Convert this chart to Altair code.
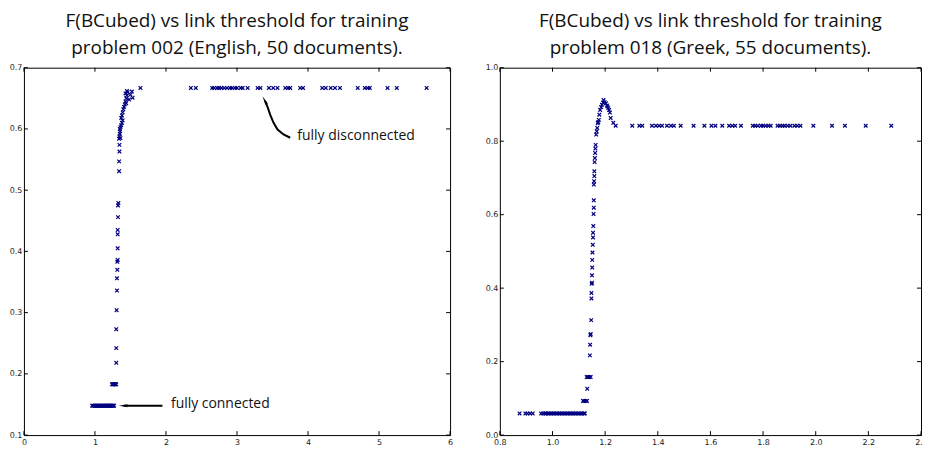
import altair as alt
import pandas as pd

# ---------------- data ----------------
# Left: training problem 002 (English)
en_x = [0.96, 0.975, 0.99, 1.0, 1.01, 1.02, 1.03, 1.045, 1.06, 1.07, 1.08, 1.09, 1.10, 1.115,
        1.13, 1.14, 1.15, 1.16, 1.17, 1.18, 1.19, 1.20, 1.21, 1.22, 1.23, 1.24, 1.25, 1.26, 1.27,
        1.24, 1.25, 1.26, 1.27, 1.28, 1.29, 1.30,
        1.30, 1.30, 1.30, 1.305, 1.31, 1.31, 1.315, 1.315, 1.32, 1.32, 1.32, 1.32, 1.325, 1.325,
        1.33, 1.34, 1.34, 1.345, 1.345,
        1.34, 1.345, 1.35, 1.355, 1.35, 1.36, 1.37, 1.38, 1.36, 1.39, 1.37, 1.38, 1.39, 1.40,
        1.41, 1.42, 1.43, 1.44, 1.45, 1.43, 1.46, 1.45, 1.48, 1.50, 1.52, 1.53, 1.44, 1.64,
        2.35, 2.42, 2.65, 2.68, 2.72, 2.75, 2.78, 2.82, 2.86, 2.90, 2.93, 2.97, 3.00, 3.05, 3.08,
        3.15, 3.29, 3.33, 3.45, 3.51, 3.57, 3.68, 3.72, 3.75, 3.89, 3.93, 4.20, 4.25, 4.32, 4.38,
        4.45, 4.70, 4.80, 4.84, 4.87, 5.12, 5.25, 5.67]
en_y = [0.148] * 29 + [0.183] * 7 + [
        0.218, 0.242, 0.273, 0.304, 0.336, 0.356, 0.370, 0.383, 0.386, 0.405, 0.428, 0.435, 0.456,
        0.475, 0.479, 0.531, 0.547, 0.563, 0.574,
        0.584, 0.588, 0.592, 0.596, 0.600, 0.603, 0.606, 0.610, 0.585, 0.614, 0.618, 0.622, 0.627,
        0.632, 0.636, 0.640, 0.645, 0.650, 0.655, 0.658, 0.660, 0.662, 0.648, 0.656, 0.661, 0.651,
        0.642, 0.667] + [0.667] * 38

# Right: training problem 018 (Greek)
gr_x = [0.875, 0.897, 0.905, 0.915, 0.925, 0.957, 0.965, 0.972,
        0.976, 0.982, 0.988, 0.994, 1.0, 1.006, 1.012, 1.018, 1.024, 1.03, 1.036, 1.042, 1.048,
        1.054, 1.06, 1.066, 1.072, 1.078, 1.084, 1.09, 1.096, 1.102, 1.108, 1.114, 1.12, 1.123,
        1.116, 1.121, 1.126, 1.131,
        1.132,
        1.13, 1.135, 1.14, 1.145,
        1.142, 1.143, 1.144, 1.145, 1.147, 1.148, 1.148, 1.149, 1.150, 1.150, 1.151, 1.151, 1.152,
        1.153, 1.154, 1.154, 1.155, 1.156, 1.157, 1.157, 1.157, 1.158, 1.159, 1.159, 1.160, 1.161,
        1.162, 1.163, 1.164, 1.166, 1.168, 1.170, 1.172, 1.174, 1.176, 1.178, 1.181, 1.185, 1.188,
        1.192, 1.194, 1.198, 1.203, 1.207, 1.209, 1.212, 1.215, 1.218, 1.221, 1.231, 1.240,
        1.303, 1.330, 1.341, 1.378, 1.393, 1.405, 1.416, 1.435, 1.450, 1.461, 1.487, 1.536, 1.577,
        1.604, 1.619, 1.645, 1.671, 1.683, 1.694, 1.716, 1.761, 1.770, 1.780, 1.792, 1.800, 1.810,
        1.820, 1.829, 1.855, 1.865, 1.874, 1.882, 1.893, 1.904, 1.919, 1.930, 1.942, 1.991, 2.062,
        2.111, 2.190, 2.287]
gr_y = [0.059] * 34 + [0.093] * 4 + [0.126] + [0.158] * 4 + [
        0.217, 0.246, 0.272, 0.275, 0.313, 0.372, 0.387, 0.412, 0.415, 0.435, 0.456, 0.477, 0.497,
        0.518, 0.538, 0.551, 0.569, 0.602, 0.619, 0.639, 0.682, 0.691, 0.705, 0.718, 0.743, 0.754,
        0.768, 0.780, 0.790, 0.818, 0.827, 0.836, 0.849, 0.852, 0.858, 0.872, 0.885, 0.893, 0.899,
        0.905, 0.912, 0.906, 0.903, 0.897, 0.894, 0.890, 0.885, 0.878, 0.863, 0.850, 0.842] + [0.842] * 42

en_title = ["F(BCubed) vs link threshold for training", "problem 002 (English, 50 documents)."]
gr_title = ["F(BCubed) vs link threshold for training", "problem 018 (Greek, 55 documents)."]

en_xticks = [0, 1, 2, 3, 4, 5, 6]
en_yticks = [0.1, 0.2, 0.3, 0.4, 0.5, 0.6, 0.7]
gr_xticks = [0.8, 1.0, 1.2, 1.4, 1.6, 1.8, 2.0, 2.2, 2.4]
gr_yticks = [0.0, 0.2, 0.4, 0.6, 0.8, 1.0]

# annotations (data coordinates)
conn_text = "fully connected"
conn_text_pos = (2.07, 0.150)
conn_arrow_x = [1.40, 1.95]
conn_arrow_y = [0.148, 0.148]
conn_head = (1.40, 0.148)

disc_text = "fully disconnected"
disc_text_pos = (3.85, 0.589)
disc_arrow_x = [3.749, 3.655, 3.571, 3.515, 3.468, 3.430, 3.398]
disc_arrow_y = [0.5856, 0.591, 0.599, 0.610, 0.623, 0.636, 0.645]
disc_head = (3.390, 0.6465)

# ---------------- styling ----------------
NAVY = "#000080"
XSHAPE = "M-1,-1L1,1M-1,1L1,-1"
HEAD = "M-1,0L1,-0.32L0.6,0L1,0.32Z"
TICKFONT = "DejaVu Sans"
TFONT = "Open Sans"
H = 369
TL = 4


def panel(xs, ys, xdom, ydom, xticks, yticks, xfmt, yfmt, W, title, extra):
    xsc = alt.Scale(domain=xdom, nice=False, zero=False)
    ysc = alt.Scale(domain=ydom, nice=False, zero=False)
    ax = dict(title=None, ticks=False, tickSize=0, domain=False, grid=False, labelFont=TICKFONT,
              labelFontSize=8, labelColor="#222", labelFlush=False, labelOverlap=False)
    xax = alt.Axis(values=xticks, format=xfmt, labelPadding=3, **ax)
    yax = alt.Axis(values=yticks, format=yfmt, labelPadding=2, **ax)

    def X():
        return alt.X("x:Q", scale=xsc, axis=xax)

    def Y():
        return alt.Y("y:Q", scale=ysc, axis=yax)

    df = pd.DataFrame({"x": xs, "y": ys})
    pts = alt.Chart(df).mark_point(shape=XSHAPE, size=13, strokeWidth=1.2, color=NAVY,
                                   filled=False, opacity=1).encode(x=X(), y=Y())
    xt = pd.DataFrame({"x": xticks})
    yt = pd.DataFrame({"y": yticks})
    bt = alt.Chart(xt).mark_rule(color="black", strokeWidth=1).encode(
        x=X(), y=alt.value(H), y2=alt.value(H - TL))
    tt = alt.Chart(xt).mark_rule(color="black", strokeWidth=1).encode(
        x=X(), y=alt.value(0), y2=alt.value(TL))
    lt = alt.Chart(yt).mark_rule(color="black", strokeWidth=1).encode(
        y=Y(), x=alt.value(0), x2=alt.value(TL))
    rt = alt.Chart(yt).mark_rule(color="black", strokeWidth=1).encode(
        y=Y(), x=alt.value(W), x2=alt.value(W - TL))
    layers = [pts, bt, tt, lt, rt]
    for (lx, ly, hx, hy, ang, tx, ty, txt) in extra:
        ldf = pd.DataFrame({"x": lx, "y": ly, "o": list(range(len(lx)))})
        layers.append(alt.Chart(ldf).mark_line(color="black", strokeWidth=2).encode(
            x=X(), y=Y(), order="o:Q"))
        hdf = pd.DataFrame({"x": [hx], "y": [hy]})
        layers.append(alt.Chart(hdf).mark_point(shape=HEAD, size=90, filled=True, color="black",
                                                opacity=1, strokeWidth=0, angle=ang).encode(
            x=X(), y=Y()))
        tdf = pd.DataFrame({"x": [tx], "y": [ty], "t": [txt]})
        layers.append(alt.Chart(tdf).mark_text(font=TFONT, fontSize=14, align="left",
                                               baseline="middle", color="#111").encode(
            x=X(), y=Y(), text="t:N"))
    return alt.layer(*layers).properties(
        width=W, height=H,
        title=alt.TitleParams(text=title, font=TFONT, fontSize=19, fontWeight="normal",
                              color="#111", lineHeight=27, offset=-9, baseline="alphabetic",
                              anchor="middle"))


left = panel(en_x, en_y, [0, 6], [0.1, 0.7], en_xticks, en_yticks, "d", ".1f", 428, en_title,
             [(conn_arrow_x, conn_arrow_y, conn_head[0], conn_head[1], 0,
               conn_text_pos[0], conn_text_pos[1], conn_text),
              (disc_arrow_x, disc_arrow_y, disc_head[0], disc_head[1], 62,
               disc_text_pos[0], disc_text_pos[1], disc_text)])
right = panel(gr_x, gr_y, [0.8, 2.4], [0.0, 1.0], gr_xticks, gr_yticks, ".1f", ".1f", 423,
              gr_title, [])

chart = alt.hconcat(left, right, spacing=30).properties(
    padding={"left": 0, "top": 2, "right": -6, "bottom": 0},
    background="white",
).configure_view(stroke="black", strokeWidth=1)

chart.save("out.html", embed_options={"renderer": "svg", "actions": False})
